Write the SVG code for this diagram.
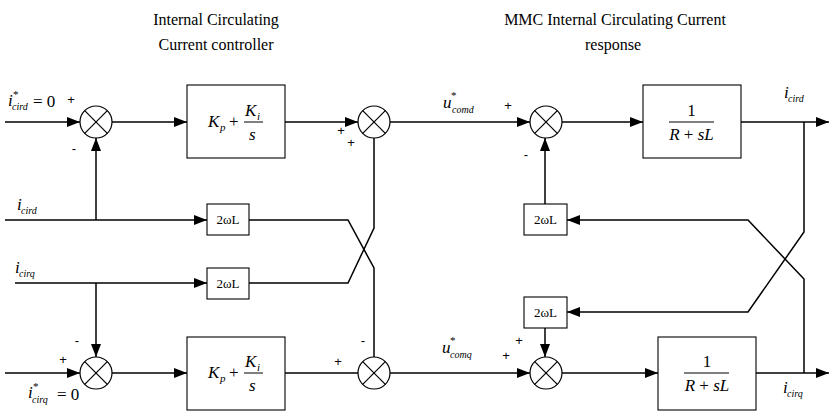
<svg xmlns="http://www.w3.org/2000/svg" width="833" height="414" viewBox="0 0 833 414">
<style>
.ln{fill:none;stroke:#000;stroke-width:1.5}
.bx{fill:#fff;stroke:#000;stroke-width:1.1}
.sm{fill:#fff;stroke:#000;stroke-width:1.2}
.x{stroke:#000;stroke-width:1.2}
.t{font-family:"Liberation Serif","Times New Roman",serif;fill:#000}
.it{font-style:italic}
.up{font-style:normal}
.pm{font-family:"Liberation Sans",Arial,sans-serif;font-size:13px;fill:#000;text-anchor:middle;dominant-baseline:central}
</style>
<defs>
<marker id="ah" markerUnits="userSpaceOnUse" markerWidth="13" markerHeight="10" refX="13" refY="5" orient="auto">
<path d="M0,0 L13,5 L0,10 z" fill="#000"/>
</marker>
<g id="sj">
<circle r="16" class="sm"/>
<line x1="-11.3" y1="-11.3" x2="11.3" y2="11.3" class="x"/>
<line x1="-11.3" y1="11.3" x2="11.3" y2="-11.3" class="x"/>
</g>
</defs>
<rect width="833" height="414" fill="#fff"/>

<g id="titles" class="t" font-size="16" text-anchor="middle">
<text x="216" y="25">Internal Circulating</text>
<text x="216" y="50">Current controller</text>
<text x="615" y="25">MMC Internal Circulating Current</text>
<text x="613" y="50">response</text>
</g>

<g id="connectors">
<path class="ln" d="M5,122 H80" marker-end="url(#ah)"/>
<path class="ln" d="M112,122 H187" marker-end="url(#ah)"/>
<path class="ln" d="M285,122 H358" marker-end="url(#ah)"/>
<path class="ln" d="M390,122 H530" marker-end="url(#ah)"/>
<path class="ln" d="M562,122 H643" marker-end="url(#ah)"/>
<path class="ln" d="M741,122 H829" marker-end="url(#ah)"/>
<path class="ln" d="M5,220 H207" marker-end="url(#ah)"/>
<path class="ln" d="M96,220 V138" marker-end="url(#ah)"/>
<path class="ln" d="M15,283 H207" marker-end="url(#ah)"/>
<path class="ln" d="M96,283 V357" marker-end="url(#ah)"/>
<path class="ln" d="M5,373 H80" marker-end="url(#ah)"/>
<path class="ln" d="M112,373 H187" marker-end="url(#ah)"/>
<path class="ln" d="M285,373 H358"/>
<path class="ln" d="M390,373 H530" marker-end="url(#ah)"/>
<path class="ln" d="M562,373 H658" marker-end="url(#ah)"/>
<path class="ln" d="M756,373 H829" marker-end="url(#ah)"/>
<path class="ln" d="M545,204 V138" marker-end="url(#ah)"/>
<path class="ln" d="M545,328 V357" marker-end="url(#ah)"/>
<path class="ln" d="M804,122 V232 L748,312 H567" marker-end="url(#ah)"/>
<path class="ln" d="M804,373 V279 L748,220 H567" marker-end="url(#ah)"/>
<path class="ln" d="M249,220 H348 L374,268 V357"/>
<path class="ln" d="M249,283 H348 L374,228 V138"/>
</g>

<g id="sum1"><use href="#sj" x="96" y="122"/>
<text class="pm" x="71" y="99">+</text><text class="pm" x="74" y="148">-</text></g>
<g id="sum2"><use href="#sj" x="374" y="122"/>
<text class="pm" x="341" y="130">+</text><text class="pm" x="351" y="142">+</text></g>
<g id="sum3"><use href="#sj" x="546" y="122"/>
<text class="pm" x="508" y="105">+</text><text class="pm" x="526" y="154">-</text></g>
<g id="sum4"><use href="#sj" x="96" y="373"/>
<text class="pm" x="77" y="340">-</text><text class="pm" x="63" y="359">+</text></g>
<g id="sum5"><use href="#sj" x="374" y="373"/>
<text class="pm" x="338" y="361">+</text><text class="pm" x="363" y="340">-</text></g>
<g id="sum6"><use href="#sj" x="546" y="373"/>
<text class="pm" x="519" y="340">+</text><text class="pm" x="506" y="355">+</text></g>

<g id="pi1">
<rect class="bx" x="187" y="85" width="98" height="73"/>
<text class="t it" x="208" y="127" font-size="17">K<tspan x="220" y="131" font-size="11">p</tspan><tspan class="up" x="229" y="127">+</tspan></text>
<text class="t it" x="245" y="116" font-size="17">K<tspan x="257" y="120" font-size="11">i</tspan></text>
<line x1="244" y1="122" x2="263" y2="122" stroke="#000" stroke-width="1"/>
<text class="t it" x="249" y="140" font-size="17">s</text>
</g>
<g id="pi2">
<rect class="bx" x="187" y="337" width="98" height="73"/>
<text class="t it" x="208" y="378" font-size="17">K<tspan x="220" y="382" font-size="11">p</tspan><tspan class="up" x="229" y="378">+</tspan></text>
<text class="t it" x="245" y="367" font-size="17">K<tspan x="257" y="371" font-size="11">i</tspan></text>
<line x1="244" y1="373" x2="263" y2="373" stroke="#000" stroke-width="1"/>
<text class="t it" x="249" y="391" font-size="17">s</text>
</g>
<g id="rl1">
<rect class="bx" x="643" y="85" width="98" height="73"/>
<text class="t" x="691.5" y="116" font-size="17" text-anchor="middle">1</text>
<line x1="669" y1="122" x2="714" y2="122" stroke="#000" stroke-width="1"/>
<text class="t it" x="691.5" y="140" font-size="17" text-anchor="middle">R<tspan class="up"> + </tspan>sL</text>
</g>
<g id="rl2">
<rect class="bx" x="658" y="337" width="98" height="73"/>
<text class="t" x="707" y="367" font-size="17" text-anchor="middle">1</text>
<line x1="684" y1="373" x2="729" y2="373" stroke="#000" stroke-width="1"/>
<text class="t it" x="707" y="391" font-size="17" text-anchor="middle">R<tspan class="up"> + </tspan>sL</text>
</g>

<g id="wl1"><rect class="bx" x="207" y="204" width="42" height="31"/>
<text class="t" x="228" y="224" font-size="13" text-anchor="middle">2ωL</text></g>
<g id="wl2"><rect class="bx" x="207" y="268" width="42" height="31"/>
<text class="t" x="228" y="288" font-size="13" text-anchor="middle">2ωL</text></g>
<g id="wl3"><rect class="bx" x="524" y="204" width="43" height="31"/>
<text class="t" x="545.5" y="224" font-size="13" text-anchor="middle">2ωL</text></g>
<g id="wl4"><rect class="bx" x="524" y="297" width="43" height="31"/>
<text class="t" x="545.5" y="317" font-size="13" text-anchor="middle">2ωL</text></g>

<g id="labels" class="t">
<text class="it" x="8" y="106" font-size="17">i<tspan class="up" x="13" y="98" font-size="11">*</tspan><tspan x="12" y="110" font-size="10">cird</tspan><tspan class="up" x="33" y="107" font-size="17">= 0</tspan></text>
<text class="it" x="28" y="398" font-size="17">i<tspan class="up" x="33" y="390" font-size="11">*</tspan><tspan x="32" y="403" font-size="10">cirq</tspan><tspan class="up" x="57" y="400" font-size="17">= 0</tspan></text>
<text class="it" x="17" y="210" font-size="17">i<tspan x="21" y="214" font-size="10">cird</tspan></text>
<text class="it" x="15" y="273" font-size="17">i<tspan x="19" y="277" font-size="10">cirq</tspan></text>
<text class="it" x="443" y="108" font-size="17">u<tspan class="up" x="451" y="99" font-size="11">*</tspan><tspan x="452" y="113" font-size="10">comd</tspan></text>
<text class="it" x="442" y="353" font-size="17">u<tspan class="up" x="450" y="344" font-size="11">*</tspan><tspan x="450" y="358" font-size="10">comq</tspan></text>
<text class="it" x="784" y="98" font-size="17">i<tspan x="788" y="102" font-size="10">cird</tspan></text>
<text class="it" x="783" y="393" font-size="17">i<tspan x="787" y="397" font-size="10">cirq</tspan></text>
</g>
</svg>
